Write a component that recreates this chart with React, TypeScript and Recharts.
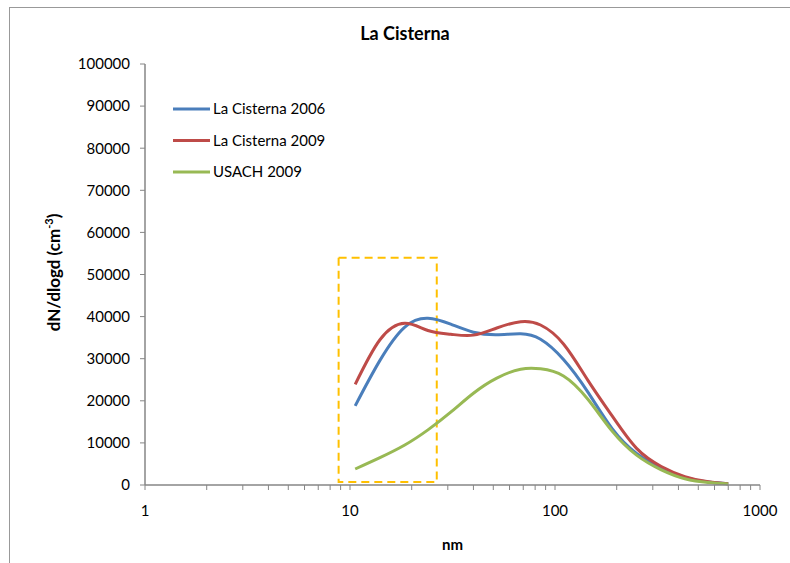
import { LineChart, Line, XAxis, YAxis, ReferenceArea, Legend, Label } from "recharts"

// particle diameter (nm)
const diameters = [10.6, 14, 18.5, 24, 31, 40, 52, 68, 85, 110, 145, 190, 250, 330, 430, 560, 700]
const cisterna2006 = [18800, 29600, 37500, 39600, 38200, 36300, 35700, 35900, 34600, 29800, 22000, 13400, 7500, 4000, 1800, 700, 300]
const cisterna2009 = [23900, 34500, 38400, 36700, 35800, 35600, 37300, 38800, 38000, 33500, 24800, 16400, 8700, 4400, 2000, 750, 300]
const usach2009 = [3800, 6500, 9500, 13100, 17300, 21800, 25400, 27500, 27600, 25900, 20300, 12800, 7100, 3600, 1500, 600, 250]

const seriesNames = ["La Cisterna 2006", "La Cisterna 2009", "USACH 2009"]
const seriesColors = ["#4A7EBB", "#BE4B48", "#98B954"]

const xTicks = [1, 2, 3, 4, 5, 6, 7, 8, 9, 10, 20, 30, 40, 50, 60, 70, 80, 90, 100, 200, 300, 400, 500, 600, 700, 800, 900, 1000]
const yTicks = [0, 10000, 20000, 30000, 40000, 50000, 60000, 70000, 80000, 90000, 100000]

// highlighted range (dashed box)
const boxX = [8.8, 26.5]
const boxY = [700, 54000]

const data = diameters.map((d, i) => ({
  d,
  c2006: cisterna2006[i],
  c2009: cisterna2009[i],
  usach: usach2009[i],
}))

const FONT = "Lato, 'Open Sans', sans-serif"
const AXIS = "#868686"

const XTick = (props: any) => {
  const { x, y, payload } = props
  const v = payload.value
  const lg = Math.log10(v)
  if (Math.abs(lg - Math.round(lg)) > 1e-6) return <g />
  return (
    <text x={x} y={y + 24} textAnchor="middle" fontSize={15} fontFamily={FONT} fill="#000">
      {v}
    </text>
  )
}

const LegendBox = (props: any) => {
  const items = props.payload || []
  return (
    <svg width={200} height={90}>
      {items.map((it: any, i: number) => (
        <g key={it.value}>
          <line x1={3} x2={40} y1={11 + i * 31.5} y2={11 + i * 31.5} stroke={it.color} strokeWidth={3} />
          <text x={43} y={16 + i * 31.5} fontSize={15} fontFamily={FONT} fill="#000">
            {it.value}
          </text>
        </g>
      ))}
    </svg>
  )
}

export default function App() {
  return (
    <div style={{ position: "fixed", left: 0, top: 0, width: 790, height: 563, overflow: "hidden", background: "#fff" }}>
      <div style={{ position: "absolute", left: 9, top: 7, width: 800, height: 600, border: "1px solid #999" }} />
      <div
        style={{
          position: "absolute",
          left: 0,
          top: 22,
          width: 810,
          textAlign: "center",
          fontFamily: FONT,
          fontWeight: "bold",
          fontSize: 18,
        }}
      >
        La Cisterna
      </div>
      <div style={{ position: "absolute", left: 0, top: 0 }}>
        <LineChart width={790} height={563} data={data} margin={{ top: 64, right: 30, bottom: 28, left: 0 }}>
          <XAxis
            dataKey="d"
            type="number"
            scale="log"
            domain={[1, 1000]}
            ticks={xTicks}
            interval={0}
            allowDataOverflow
            tick={<XTick />}
            tickSize={5}
            tickMargin={2}
            height={50}
            axisLine={{ stroke: AXIS, strokeWidth: 1.5 }}
            tickLine={{ stroke: AXIS }}
          >
            <Label
              value="nm"
              position="bottom"
              offset={4}
              style={{ fontFamily: FONT, fontWeight: "bold", fontSize: 15, fill: "#000" }}
            />
          </XAxis>
          <XAxis
            xAxisId="top"
            orientation="top"
            type="number"
            scale="log"
            domain={[1, 1000]}
            height={0}
            tick={false}
            tickLine={false}
            axisLine={{ stroke: AXIS }}
          />
          <YAxis
            type="number"
            domain={[0, 100000]}
            ticks={yTicks}
            interval={0}
            width={145}
            tickSize={5}
            tickMargin={10}
            tick={{ fontSize: 15, fontFamily: FONT, fill: "#000" }}
            axisLine={{ stroke: AXIS, strokeWidth: 1.5 }}
            tickLine={{ stroke: AXIS }}
          >
            <Label
              content={(p: any) => {
                const vb = p.viewBox || { x: 0, y: 64, height: 421 }
                const cx = 60
                const cy = vb.y + vb.height / 2 - 2
                return (
                  <text
                    x={cx}
                    y={cy}
                    transform={`rotate(-90 ${cx} ${cy})`}
                    textAnchor="middle"
                    fontFamily={FONT}
                    fontWeight="bold"
                    fontSize={17}
                    fill="#000"
                  >
                    dN/dlogd (cm
                    <tspan dy={-7} fontSize={11}>-3</tspan>
                    <tspan dy={7}>)</tspan>
                  </text>
                )
              }}
            />
          </YAxis>
          <YAxis
            yAxisId="right"
            orientation="right"
            type="number"
            domain={[0, 100000]}
            width={0}
            tick={false}
            tickLine={false}
            axisLine={{ stroke: AXIS }}
          />
          <ReferenceArea
            x1={boxX[0]}
            x2={boxX[1]}
            y1={boxY[0]}
            y2={boxY[1]}
            fill="none"
            fillOpacity={0}
            stroke="#FFC000"
            strokeWidth={2}
            strokeDasharray="8 5"
            ifOverflow="visible"
          />
          <Legend
            layout="vertical"
            verticalAlign="middle"
            align="center"
            content={<LegendBox />}
            wrapperStyle={{ position: "absolute", left: 170, top: 98, width: 200 }}
          />
          <Line type="natural" dataKey="c2006" name={seriesNames[0]} stroke={seriesColors[0]} strokeWidth={3} dot={false} isAnimationActive={false} />
          <Line type="natural" dataKey="c2009" name={seriesNames[1]} stroke={seriesColors[1]} strokeWidth={3} dot={false} isAnimationActive={false} />
          <Line type="natural" dataKey="usach" name={seriesNames[2]} stroke={seriesColors[2]} strokeWidth={3} dot={false} isAnimationActive={false} />
        </LineChart>
      </div>
    </div>
  )
}
